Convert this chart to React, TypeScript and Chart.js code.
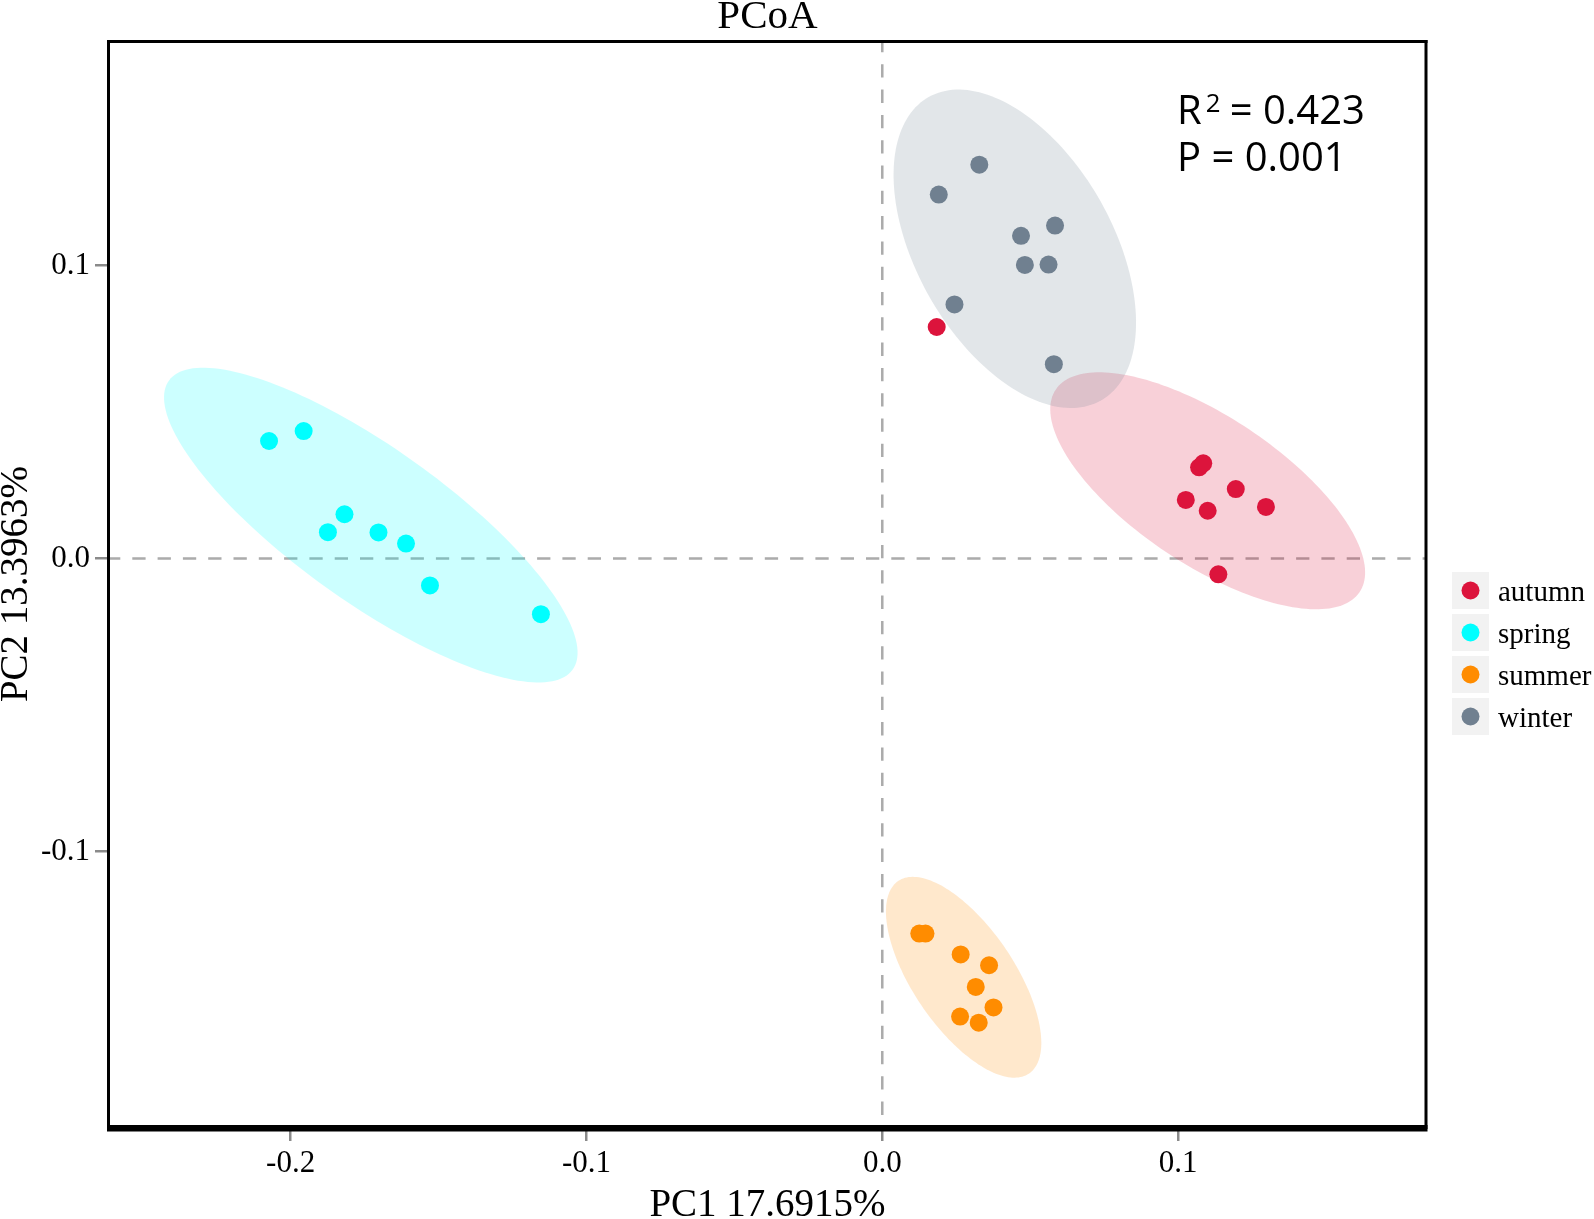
import React, { useEffect, useRef } from 'react';
import { Chart, registerables } from 'chart.js';

Chart.register(...registerables);

// ---------- data ----------
const groups = ['autumn', 'spring', 'summer', 'winter'];
const groupColors = ['#DC143C', '#00FFFF', '#FF8C00', '#708090'];

const autumnX = [0.0184, 0.1071, 0.1085, 0.1195, 0.1026, 0.11, 0.1297, 0.1136];
const autumnY = [0.079, 0.0311, 0.0325, 0.0237, 0.02, 0.0163, 0.0176, -0.0054];

const springX = [-0.2073, -0.1956, -0.1818, -0.1874, -0.1703, -0.161, -0.1529, -0.1154];
const springY = [0.0401, 0.0435, 0.0151, 0.009, 0.0089, 0.0051, -0.0092, -0.019];

const summerX = [0.0125, 0.0146, 0.0265, 0.0361, 0.0316, 0.0376, 0.0263, 0.0326];
const summerY = [-0.128, -0.128, -0.1351, -0.1388, -0.1462, -0.1532, -0.1563, -0.1584];

const winterX = [0.0328, 0.0191, 0.0584, 0.0469, 0.0482, 0.0562, 0.0244, 0.058];
const winterY = [0.1344, 0.1242, 0.1136, 0.1101, 0.1002, 0.1003, 0.0867, 0.0663];

// confidence ellipses (order as groups): centre, semi-axes, rotation (deg)
const ellipseCX = [0.11, -0.1729, 0.0275, 0.0448];
const ellipseCY = [0.0231, 0.0114, -0.1429, 0.1057];
const ellipseA = [0.0619, 0.0842, 0.0396, 0.0594];
const ellipseB = [0.0252, 0.0261, 0.0172, 0.0332];
const ellipseAngle = [-34.0, -35.9, -56.2, -60.8];

const xTicks = [-0.2, -0.1, 0.0, 0.1];
const yTicks = [-0.1, 0.0, 0.1];
const xRange = [-0.2614, 0.1838];
const yRange = [-0.194, 0.1766];

const titleText = 'PCoA';
const xTitle = 'PC1 17.6915%';
const yTitle = 'PC2 13.3963%';
const r2Value = '0.423';
const pValue = '0.001';

const seriesX = [autumnX, springX, summerX, winterX];
const seriesY = [autumnY, springY, summerY, winterY];

const SERIF = '"Liberation Serif", "Times New Roman", serif';
const SANS = '"Open Sans", sans-serif';

function rgba(hex: string, a: number) {
  const n = parseInt(hex.slice(1), 16);
  return `rgba(${(n >> 16) & 255},${(n >> 8) & 255},${n & 255},${a})`;
}

// draw text so that its ink starts at inkLeft
function drawInk(ctx: CanvasRenderingContext2D, text: string, inkLeft: number, baseline: number) {
  const m = ctx.measureText(text);
  const x = inkLeft + (m.actualBoundingBoxLeft || 0);
  ctx.fillText(text, x, baseline);
}

const backgroundPlugin = {
  id: 'pcoaBackground',
  beforeDatasetsDraw(chart: any) {
    const { ctx, chartArea: ca, scales } = chart;
    const x = scales.x;
    const y = scales.y;
    ctx.save();
    ctx.beginPath();
    ctx.rect(ca.left, ca.top, ca.right - ca.left, ca.bottom - ca.top);
    ctx.clip();
    // reference lines at zero
    ctx.strokeStyle = '#ababab';
    ctx.lineWidth = 2.5;
    ctx.setLineDash([13.3, 12]);
    const x0 = x.getPixelForValue(0);
    const y0 = y.getPixelForValue(0);
    ctx.lineDashOffset = 2;
    ctx.beginPath();
    ctx.moveTo(ca.left, y0);
    ctx.lineTo(ca.right, y0);
    ctx.stroke();
    ctx.beginPath();
    ctx.moveTo(x0, ca.top);
    ctx.lineTo(x0, ca.bottom);
    ctx.stroke();
    ctx.setLineDash([]);
    // ellipses
    groups.forEach((_g, i) => {
      const th = (ellipseAngle[i] * Math.PI) / 180;
      ctx.beginPath();
      const N = 180;
      for (let k = 0; k <= N; k++) {
        const t = (k / N) * 2 * Math.PI;
        const dx = ellipseA[i] * Math.cos(t);
        const dy = ellipseB[i] * Math.sin(t);
        const vx = ellipseCX[i] + dx * Math.cos(th) - dy * Math.sin(th);
        const vy = ellipseCY[i] + dx * Math.sin(th) + dy * Math.cos(th);
        const px = x.getPixelForValue(vx);
        const py = y.getPixelForValue(vy);
        if (k === 0) ctx.moveTo(px, py);
        else ctx.lineTo(px, py);
      }
      ctx.closePath();
      ctx.fillStyle = rgba(groupColors[i], 0.2);
      ctx.fill();
    });
    ctx.restore();
  },
};

const overlayPlugin = {
  id: 'pcoaOverlay',
  afterDraw(chart: any) {
    const { ctx, chartArea: ca } = chart;
    const w = ca.right - ca.left;
    const h = ca.bottom - ca.top;
    ctx.save();
    // frame
    ctx.fillStyle = '#000';
    ctx.fillRect(ca.left - 2, ca.top - 1, w + 3.5, 3);
    ctx.fillRect(ca.left - 2, ca.top - 1, 3, h + 3);
    ctx.fillRect(ca.right - 1.5, ca.top - 1, 3, h + 3);
    ctx.fillRect(ca.left - 2, ca.bottom - 2, w + 3.5, 6.5);

    // statistics text
    ctx.fillStyle = '#000';
    ctx.textBaseline = 'alphabetic';
    ctx.textAlign = 'left';
    ctx.font = '40px ' + SANS;
    drawInk(ctx, 'R', 1180, 124);
    drawInk(ctx, '= ' + r2Value, 1231.7, 124);
    drawInk(ctx, 'P = ' + pValue, 1180, 170.7);
    ctx.font = '25.8px ' + SANS;
    drawInk(ctx, '2', 1206.7, 111.7);

    // legend
    const boxLeft = ca.right + 26;
    const boxSize = 37;
    const step = 42;
    const top0 = 572;
    groups.forEach((g, i) => {
      const by = top0 + i * step;
      ctx.fillStyle = '#f2f2f2';
      ctx.fillRect(boxLeft, by, boxSize, boxSize);
      ctx.fillStyle = groupColors[i];
      ctx.beginPath();
      ctx.arc(boxLeft + boxSize / 2, by + boxSize / 2, 9, 0, Math.PI * 2);
      ctx.fill();
      ctx.fillStyle = '#000';
      ctx.font = '29px ' + SERIF;
      ctx.fillText(g, boxLeft + 46, by + boxSize / 2 + 10);
    });
    ctx.restore();
  },
};

export default function App() {
  const canvasRef = useRef<HTMLCanvasElement | null>(null);

  useEffect(() => {
    document.body.style.margin = '0';
    const canvas = canvasRef.current;
    if (!canvas) return;
    const datasets = groups.map((g, i) => ({
      label: g,
      data: seriesX[i].map((v, k) => ({ x: v, y: seriesY[i][k] })),
      backgroundColor: groupColors[i],
      pointBackgroundColor: groupColors[i],
      pointBorderWidth: 0,
      pointRadius: 9,
      pointHoverRadius: 9,
      showLine: false,
    }));

    const chart = new Chart(canvas, {
      type: 'scatter',
      data: { datasets },
      options: {
        responsive: false,
        animation: false,
        devicePixelRatio: 1,
        events: [],
        layout: { padding: { left: 0, right: 168, top: 0, bottom: 0 } },
        plugins: {
          legend: { display: false },
          tooltip: { enabled: false },
          title: {
            display: true,
            text: titleText,
            fullSize: false,
            color: '#000',
            font: { family: SERIF, size: 41, weight: 'normal', lineHeight: 1 },
            padding: { top: -3, bottom: 3 },
          },
        },
        scales: {
          x: {
            type: 'linear',
            min: xRange[0],
            max: xRange[1],
            afterFit: (s: any) => {
              s.height = 92;
            },
            afterBuildTicks: (s: any) => {
              s.ticks = xTicks.map((v) => ({ value: v }));
            },
            ticks: {
              includeBounds: false,
              autoSkip: false,
              maxRotation: 0,
              color: '#000',
              padding: 4,
              font: { family: SERIF, size: 31, lineHeight: 1.2 },
              callback: (v: any) => Number(v).toFixed(1),
            },
            grid: {
              drawOnChartArea: false,
              drawTicks: true,
              tickLength: 14,
              color: '#8a8a8a',
              lineWidth: 2.5,
            },
            border: { display: false },
            title: {
              display: true,
              text: xTitle,
              color: '#000',
              font: { family: SERIF, size: 39, lineHeight: 0.7 },
              padding: { top: 0, bottom: 0 },
            },
          },
          y: {
            type: 'linear',
            min: yRange[0],
            max: yRange[1],
            afterFit: (s: any) => {
              s.width = 109;
            },
            afterBuildTicks: (s: any) => {
              s.ticks = yTicks.map((v) => ({ value: v }));
            },
            ticks: {
              includeBounds: false,
              autoSkip: false,
              color: '#000',
              padding: 5,
              font: { family: SERIF, size: 31, lineHeight: 1.2 },
              callback: (v: any) => Number(v).toFixed(1),
            },
            grid: {
              drawOnChartArea: false,
              drawTicks: true,
              tickLength: 14,
              color: '#8a8a8a',
              lineWidth: 2.5,
            },
            border: { display: false },
            title: {
              display: true,
              text: yTitle,
              color: '#000',
              font: { family: SERIF, size: 39, lineHeight: 0.7 },
              padding: { top: 3, bottom: 0 },
            },
          },
        },
      },
      plugins: [backgroundPlugin, overlayPlugin],
    } as any);

    return () => chart.destroy();
  }, []);

  return (
    <div style={{ width: 1594, height: 1219, background: '#fff' }}>
      <canvas ref={canvasRef} width={1594} height={1219} style={{ display: 'block' }} />
    </div>
  );
}
